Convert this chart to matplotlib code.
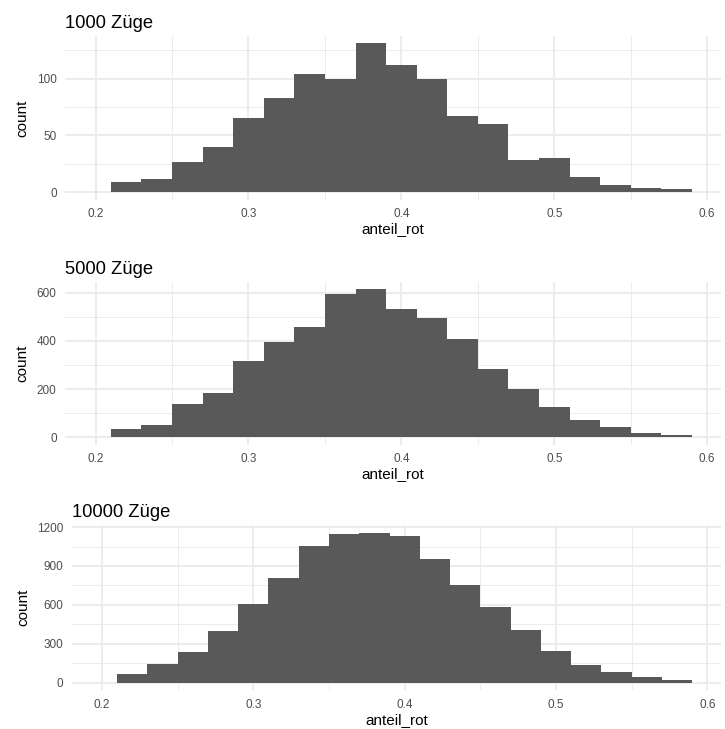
import numpy as np
import matplotlib
matplotlib.use("Agg")
import matplotlib.pyplot as plt
from matplotlib.ticker import FixedLocator, FormatStrFormatter

plt.rcParams['font.family'] = ['Liberation Sans', 'DejaVu Sans']

# Bin edges of the histograms (binwidth 0.02)
bin_edges = [0.21, 0.23, 0.25, 0.27, 0.29, 0.31, 0.33, 0.35, 0.37, 0.39,
             0.41, 0.43, 0.45, 0.47, 0.49, 0.51, 0.53, 0.55, 0.57, 0.59]

# Counts per bin
counts_1000 = [9, 12, 27, 40, 65, 83, 104, 100, 131, 112,
               100, 67, 60, 28, 30, 13, 6, 4, 3]
counts_5000 = [36, 52, 139, 184, 316, 394, 459, 593, 613, 530,
               493, 409, 283, 200, 126, 71, 41, 18, 8]
counts_10000 = [65, 142, 240, 396, 610, 809, 1055, 1143, 1156, 1130,
                952, 750, 584, 403, 246, 134, 83, 44, 18]

titles = ["1000 Züge", "5000 Züge", "10000 Züge"]
all_counts = [counts_1000, counts_5000, counts_10000]
y_major = [[0, 50, 100], [0, 200, 400, 600], [0, 300, 600, 900, 1200]]
x_major = [0.2, 0.3, 0.4, 0.5, 0.6]
x_minor = [0.25, 0.35, 0.45, 0.55]

W, H = 725, 729
fig = plt.figure(figsize=(W / 100, H / 100), dpi=100)

# panel boxes in pixels: left, top, right, bottom
panels = [(65, 36, 721, 199.7),
          (65, 282, 721, 444.7),
          (71.7, 525.3, 721, 690.2)]

grid_col = "#EBEBEB"
for (l, t, r, b), title, counts, ymaj in zip(panels, titles, all_counts, y_major):
    ax = fig.add_axes([l / W, 1 - b / H, (r - l) / W, (b - t) / H])
    ax.stairs(counts, bin_edges, fill=True, color="#595959", linewidth=0, zorder=3)

    ymax = max(counts) * 1.05
    ax.set_ylim(-max(counts) * 0.05, ymax)
    ax.set_xlim(0.18, 0.609)

    step = ymaj[1] - ymaj[0]
    ymin_ticks = [v + step / 2 for v in ymaj if v + step / 2 < ymax]
    ax.yaxis.set_major_locator(FixedLocator(ymaj))
    ax.yaxis.set_minor_locator(FixedLocator(ymin_ticks))
    ax.xaxis.set_major_locator(FixedLocator(x_major))
    ax.xaxis.set_minor_locator(FixedLocator(x_minor))
    ax.xaxis.set_major_formatter(FormatStrFormatter('%.1f'))

    ax.grid(which='major', color=grid_col, linewidth=1.3, zorder=0)
    ax.grid(which='minor', color=grid_col, linewidth=0.65, zorder=0)
    ax.set_axisbelow(True)
    for s in ax.spines.values():
        s.set_visible(False)
    ax.tick_params(which='both', length=0, labelsize=8.5, labelcolor="#4D4D4D")
    ax.tick_params(axis='x', pad=6)
    ax.tick_params(axis='y', pad=6)

    ax.set_xlabel("anteil_rot", fontsize=11, labelpad=1.5)
    ax.set_ylabel("count", fontsize=11, labelpad=5)
    ax.set_title(title, fontsize=13.2, loc='left', pad=6)

fig.savefig("out.png", dpi=100, facecolor="white")
